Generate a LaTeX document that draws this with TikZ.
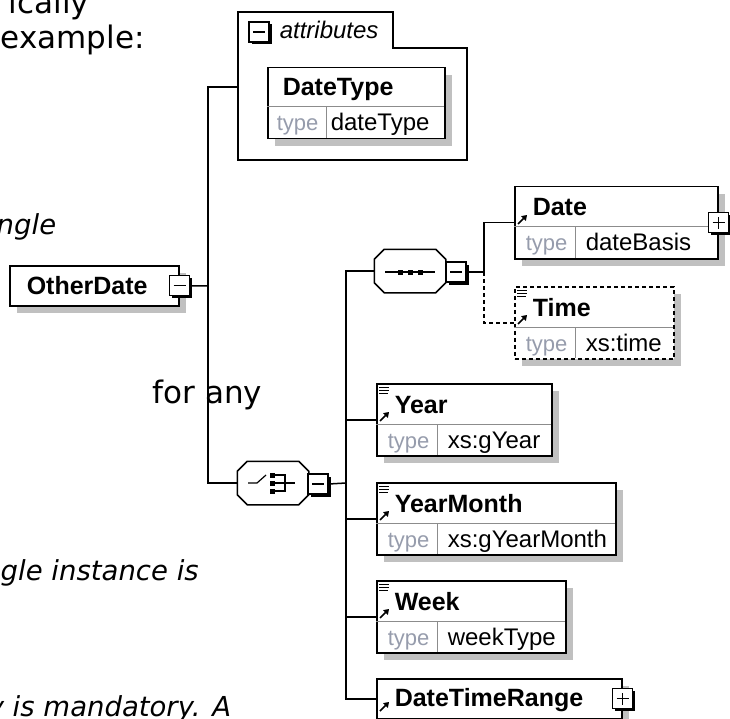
\documentclass[tikz,border=0pt]{standalone}
\usepackage{fontspec}
\newfontfamily\bodyfont{DejaVu Sans}
\newfontfamily\diafont{Liberation Sans}
\usetikzlibrary{arrows.meta,calc,positioning,shadows}
\definecolor{xsgray}{RGB}{150,156,172}
\definecolor{xsshadow}{RGB}{192,192,192}
\definecolor{xsline}{RGB}{140,140,140}

\begin{document}
\begin{tikzpicture}[x=1pt,y=-1pt,>=Latex,line width=1.5pt,
    shade/.style={drop shadow={shadow xshift=7pt,shadow yshift=-7pt,fill=xsshadow,opacity=1}},
    elem/.style={draw,fill=white,inner sep=0pt,anchor=north west,shade},
    optbox/.style={dash pattern=on 4pt off 3pt},
    comp/.style={minimum width=70pt,minimum height=42pt,inner sep=0pt},
    pmbox/.style={draw,fill=white,line width=1.3pt,minimum size=20pt,inner sep=0pt,
      drop shadow={shadow xshift=2.5pt,shadow yshift=-2.5pt,fill=black,opacity=1}},
    minusbox/.style={pmbox,path picture={\draw[line width=1.3pt]
      ([xshift=4pt]path picture bounding box.west) -- ([xshift=-4pt]path picture bounding box.east);}},
    plusbox/.style={pmbox,path picture={\draw[line width=1.3pt]
      ([xshift=4pt]path picture bounding box.west) -- ([xshift=-4pt]path picture bounding box.east)
      ([yshift=4pt]path picture bounding box.south) -- ([yshift=-4pt]path picture bounding box.north);}},
    ename/.style={anchor=base west,inner sep=0pt,font=\diafont\bfseries\fontsize{25}{25}\selectfont},
    tlabel/.style={anchor=base west,inner sep=0pt,text=xsgray,font=\diafont\fontsize{22}{22}\selectfont},
    tvalue/.style={anchor=base west,inner sep=0pt,font=\diafont\fontsize{24}{24}\selectfont},
    grplabel/.style={anchor=base west,inner sep=0pt,font=\diafont\itshape\fontsize{24}{24}\selectfont},
    prose/.style={anchor=base west,inner sep=0pt,font=\bodyfont\fontsize{31}{31}\selectfont},
    proseit/.style={anchor=base west,inner sep=0pt,font=\bodyfont\itshape\fontsize{27.5}{27.5}\selectfont},
    rowline/.style={line width=1pt,draw=xsline},
    refarrow/.style={-{Triangle[length=5pt,width=6.5pt]},line width=1.6pt},
    many/.style={line width=1pt}]
  \useasboundingbox (0,0) rectangle (730,719);
  \clip (0,0) rectangle (730,719);

  % bits of the page text round the picture
  \node[prose] (p1) at (8,14) {ically};
  \node[prose] (p2) at (0,49) {example:};
  \node[proseit] (p3) at (-4,234) {ngle};
  \node[prose] (p4) at (152,403) {for any};
  \node[proseit] (p5) at (0,580) {gle instance is};
  \node[proseit] (p6) at (-13,716) {y is mandatory. A};

  % root element
  \node[elem,minimum width=169pt,minimum height=40pt] (otherdate) at (9,265) {};
  \node[ename] at (26,294) {OtherDate};
  \node[minusbox] (odminus) at (otherdate.east) {};

  % attribute group
  \draw (238,160) -- (238,12) -- (393,12) -- (393,48) -- (467,48) -- (467,160) -- cycle;
  \coordinate (attrin) at (238,87);
  \node[minusbox] (attrminus) at (259,32) {};
  \node[grplabel] at (279,39) {attributes};
  \node[elem,minimum width=177pt,minimum height=71pt] (datetype) at (267,67) {};
  \draw[rowline] (267,107) -- (444,107);
  \draw[rowline] (326,107) -- (326,138);
  \node[ename] at (282,96) {DateType};
  \node[tlabel] at (276,131) {type};
  \node[tvalue] at (330,131) {dateType};

  % compositors
  \node[comp] (choice) at (273,483) {};
  \node[comp] (seq) at (410,271) {};
  \foreach \c in {choice,seq} {
    \fill[xsshadow,shift={(7,7)}] ($(\c.north west)+(10,0)$) -- ($(\c.north east)+(-10,0)$)
      -- ($(\c.north east)+(0,10)$) -- ($(\c.south east)+(0,-10)$) -- ($(\c.south east)+(-10,0)$)
      -- ($(\c.south west)+(10,0)$) -- ($(\c.south west)+(0,-10)$) -- ($(\c.north west)+(0,10)$) -- cycle;
    \filldraw[fill=white] ($(\c.north west)+(10,0)$) -- ($(\c.north east)+(-10,0)$)
      -- ($(\c.north east)+(0,10)$) -- ($(\c.south east)+(0,-10)$) -- ($(\c.south east)+(-10,0)$)
      -- ($(\c.south west)+(10,0)$) -- ($(\c.south west)+(0,-10)$) -- ($(\c.north west)+(0,10)$) -- cycle;
  }
  \node[minusbox] (choiceminus) at (318,484) {};
  \draw[line width=1.2pt] (248,483) -- (257,483) -- (266,475);
  \foreach \sy in {475,483,491} \fill (270,\sy-2.5) rectangle +(5,5);
  \draw[line width=1.2pt] (275,475) -- (285,475) -- (285,491) -- (275,491) (275,483) -- (295,483);

  \node[minusbox] (seqminus) at (456,272) {};
  \draw[line width=1.2pt] (385,272) -- (435,272);
  \foreach \sx in {400,410,420} \fill (\sx-2.5,269.5) rectangle +(5,5);

  % child elements
  \foreach \n/\x/\y/\w/\lab/\typ/\ls in {
      date/514/186/203/Date/dateBasis/solid,
      time/514/286/159/Time/xs:time/optbox,
      year/376/383/175/Year/xs:gYear/solid,
      yearmonth/376/482/239/YearMonth/xs:gYearMonth/solid,
      week/376/580/189/Week/weekType/solid}{
    \node[elem,\ls,minimum width=\w pt,minimum height=72pt] (\n) at (\x,\y) {};
    \draw[rowline] (\x,\y+41) -- (\x+\w,\y+41);
    \draw[rowline] (\x+61,\y+41) -- (\x+61,\y+72);
    \node[ename] at (\x+18,\y+30) {\lab};
    \node[tlabel] at (\x+11,\y+65) {type};
    \node[tvalue] at (\x+71,\y+65) {\typ};
    \draw[refarrow] (\x+4,\y+38) -- (\x+13,\y+29);
  }
  \foreach \e in {time,year,yearmonth,week}
    \draw[many] ([xshift=3pt,yshift=-4pt]\e.north west) -- +(10,0)
      ([xshift=3pt,yshift=-7pt]\e.north west) -- +(10,0)
      ([xshift=3pt,yshift=-10pt]\e.north west) -- +(9,0);
  \node[plusbox] (dateplus) at (date.east) {};

  \node[elem,minimum width=245pt,minimum height=40pt] (dtr) at (376,678) {};
  \node[ename] at (394,706) {DateTimeRange};
  \draw[refarrow] (380,711) -- (389,702);
  \node[plusbox] (dtrplus) at (dtr.east) {};

  % connectors
  \coordinate (trunk) at (208,286);
  \coordinate (fork) at (346,483);
  \coordinate (seqfork) at (484,272);
  \draw (odminus.east) -- (trunk);
  \draw (attrin) -| (trunk) |- (choice.west);
  \draw (choiceminus.east) -- (fork);
  \draw (seq.west) -| (fork) |- (dtr.west);
  \foreach \e in {year,yearmonth,week}
    \draw (\e.west) -- (\e.west -| fork);
  \draw (seqminus.east) -- (seqfork) |- (date.west);
  \draw[optbox] (seqfork) |- (time.west);
\end{tikzpicture}
\end{document}
